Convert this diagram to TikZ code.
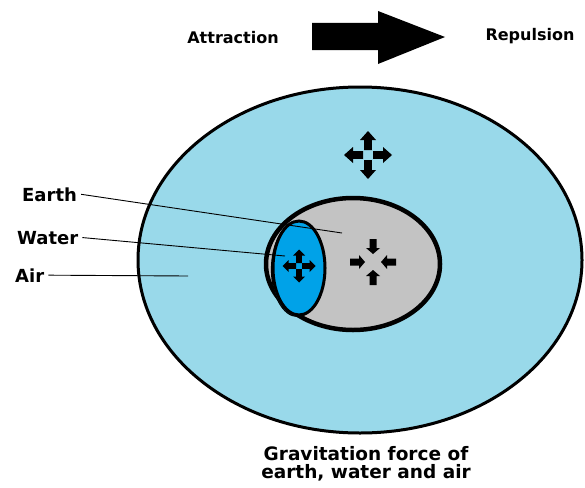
\documentclass[tikz,border=0pt]{standalone}
\usepackage{fontspec}
\setmainfont{DejaVu Sans}
\definecolor{airblue}{RGB}{153,217,234}
\definecolor{waterblue}{RGB}{0,162,232}
\definecolor{earthgrey}{RGB}{195,195,195}
\newcommand\quadarrows[7]{%
  \foreach \a in {0,90,180,270}{%
    \fill[black,shift={(#1,#2)},rotate=\a] (#3,-#5) -- ({#4-#7},-#5) -- ({#4-#7},-#6) -- (#4,0) -- ({#4-#7},#6) -- ({#4-#7},#5) -- (#3,#5) -- cycle;
  }}
\tikzset{
  toplbl/.style={font=\bfseries\fontsize{16}{19}\selectfont, inner sep=0pt, anchor=base},
  sidelbl/.style={font=\bfseries\fontsize{18}{21}\selectfont, inner xsep=4pt, inner ysep=0pt, anchor=base west},
  botlbl/.style={font=\bfseries\fontsize{18.5}{21}\selectfont, inner sep=0pt, anchor=base},
  leader/.style={draw=black, line width=0.9pt}
}
\begin{document}
\begin{tikzpicture}[x=1pt,y=-1pt]
\useasboundingbox (0,0) rectangle (585,487);
% big arrow
\fill[black] (312,23) -- (378,23) -- (378,11) -- (445,37) -- (378,64) -- (378,50) -- (312,50) -- cycle;
\node[toplbl] (attr) at (233,43.3) {Attraction};
\node[toplbl] (rep) at (530,40.7) {Repulsion};
% air
\draw[fill=airblue, line width=3pt] (360,260) ellipse [x radius=222, y radius=173];
% earth
\draw[fill=earthgrey, line width=4.5pt] (353,264) ellipse [x radius=87, y radius=66];
% water
\draw[fill=waterblue, line width=1.2pt] (297.5,269.5) ellipse [x radius=26, y radius=47];
\draw[fill=waterblue, line width=3pt] (299,268) ellipse [x radius=26, y radius=47];
% force arrows
\quadarrows{368}{155}{5}{24}{3.8}{8}{9}
\quadarrows{373}{262}{23}{8}{3.5}{7}{-6}
\quadarrows{299}{266}{3}{16.5}{2.8}{6}{6}
% labels
\node[sidelbl] (earthlbl) at (18,201) {Earth};
\node[sidelbl] (waterlbl) at (13,244) {Water};
\node[sidelbl] (airlbl) at (11,282) {Air};
\coordinate (earthpt) at (342,233);
\coordinate (waterpt) at (285,256);
\coordinate (airpt) at (188,276);
\draw[leader] (earthlbl.east) -- (earthpt);
\draw[leader] (waterlbl.east) -- (waterpt);
\draw[leader] (airlbl.east) -- (airpt);
\node[botlbl] (grav1) at (366,460.7) {Gravitation force of};
\node[botlbl] (grav2) at (366,478.5) {earth, water and air};
\end{tikzpicture}
\end{document}
